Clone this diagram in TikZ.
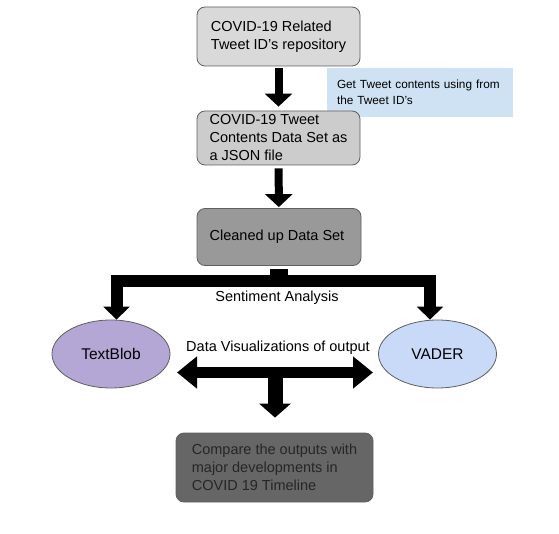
\documentclass[tikz,border=0pt]{standalone}
\usepackage{fontspec}
\setmainfont{Liberation Sans}
\definecolor{boxedge}{RGB}{95, 95, 95}
\definecolor{repogray}{RGB}{217, 217, 217}
\definecolor{jsongray}{RGB}{204, 204, 204}
\definecolor{cleangray}{RGB}{153, 153, 153}
\definecolor{comparegray}{RGB}{102, 102, 102}
\definecolor{noteblue}{RGB}{207, 226, 243}
\definecolor{blobviolet}{RGB}{180, 167, 214}
\definecolor{vaderblue}{RGB}{201, 218, 248}
\usetikzlibrary{shapes, arrows.meta, positioning, calc}

\begin{document}
\begin{tikzpicture}[x=1pt, y=-1pt,
  flowbox/.style={draw=boxedge, line width=0.8pt, rounded corners=8pt, align=left, inner xsep=2pt, inner ysep=2pt, font=\fontsize{14.5}{18}\selectfont},
  bubble/.style={ellipse, draw=boxedge, line width=0.8pt, minimum width=118pt, minimum height=68pt, inner sep=0pt, font=\fontsize{15.5}{18}\selectfont},
  blockarrow/.style={line width=8pt, -{Triangle[width=27pt, length=13pt]}},
  splitarrow/.style={line width=12pt, {Triangle[width=26pt, length=13pt]}-{Triangle[width=26pt, length=13pt]}},
  plainlabel/.style={font=\fontsize{14.5}{18}\selectfont, inner sep=1pt}]
  \useasboundingbox (0, 0) rectangle (559, 534);

  % Tweet ID repository
  \node[flowbox, fill=repogray, minimum width=163pt, minimum height=59pt] (repo) at (278.5, 36.5) {
    COVID-19 Related\\Tweet ID's repository
  };

  % hydration note
  \node[fill=noteblue, text width=166pt, inner xsep=10pt, minimum height=49pt, align=left, font=\fontsize{11.8}{15.5}\selectfont] (note) at (420, 92.5) {
    Get Tweet contents using from\\the Tweet ID's
  };

  % JSON data set
  \node[flowbox, fill=jsongray, minimum width=163pt, minimum height=54pt] (json) at (278.5, 138) {
    COVID-19 Tweet\\Contents Data Set as\\a JSON file
  };

  % cleaned data
  \node[flowbox, fill=cleangray, minimum width=164pt, minimum height=57pt] (clean) at (279, 237) {
    Cleaned up Data Set
  };

  % two analysers
  \node[bubble, fill=blobviolet] (tblob) at (111, 354) {TextBlob};
  \node[bubble, fill=vaderblue] (vader) at (437.5, 354) {VADER};

  % comparison
  \node[flowbox, fill=comparegray, text=black!85, minimum width=197pt, minimum height=69pt] (compare) at (274.5, 467.5) {
    Compare the outputs with\\major developments in\\COVID 19 Timeline
  };

  \draw[blockarrow, shorten <=2pt, shorten >=4pt] (repo) -- (json);
  \draw[blockarrow, shorten <=3pt, shorten >=1pt] (json) -- (clean);

  % sentiment analysis split
  \coordinate (split) at (279.5, 281);
  \draw[line width=18pt] ([yshift=-3pt]clean.south) -- (clean.south |- split);
  \draw[splitarrow] ([xshift=5.5pt]tblob.north) |- (split) -| ([xshift=-7.5pt]vader.north);
  \node[plainlabel] (sentlabel) at (277, 298) {Sentiment Analysis};

  % visualisations
  \node[plainlabel] (dvlabel) at (278, 348) {Data Visualizations of output};
  \coordinate (dvleft) at (177, 372.5);
  \coordinate (dvright) at (373, 372.5);
  \coordinate (dvmid) at (275, 372.5);
  \draw[line width=11pt, {Triangle[width=31pt, length=20pt]}-{Triangle[width=31pt, length=20pt]}] (dvleft) -- (dvright);
  \draw[line width=15pt, -{Triangle[width=31pt, length=14pt]}, shorten >=15pt] (dvmid) -- (dvmid |- compare.north);
\end{tikzpicture}
\end{document}
